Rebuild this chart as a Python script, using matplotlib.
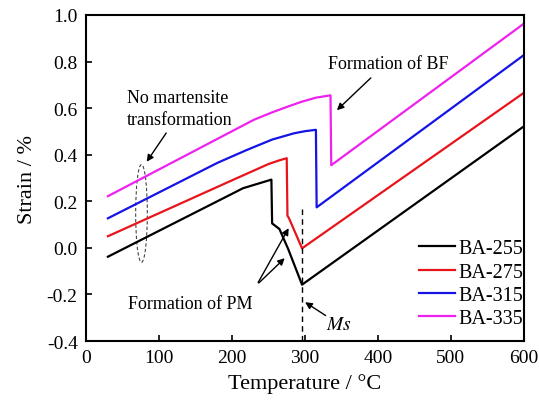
import matplotlib
matplotlib.use("Agg")
import matplotlib.pyplot as plt
from matplotlib.patches import Ellipse

plt.rcParams['font.family'] = ['Liberation Serif', 'DejaVu Serif']
plt.rcParams['mathtext.fontset'] = 'stix'

# BA-255
t_255 = [30, 200, 215, 235, 254, 255, 265, 277, 296, 600]
s_255 = [-0.038, 0.232, 0.256, 0.275, 0.293, 0.105, 0.081, -0.005, -0.158, 0.522]
# BA-275
t_275 = [30, 200, 225, 250, 265, 275, 276, 278, 296, 600]
s_275 = [0.05, 0.29, 0.325, 0.36, 0.376, 0.385, 0.138, 0.128, -0.002, 0.666]
# BA-315
t_315 = [30, 180, 220, 255, 285, 300, 315, 316, 600]
s_315 = [0.127, 0.365, 0.42, 0.465, 0.492, 0.501, 0.507, 0.174, 0.828]
# BA-335
t_335 = [30, 230, 255, 275, 295, 315, 335, 336, 600]
s_335 = [0.222, 0.55, 0.582, 0.605, 0.627, 0.645, 0.655, 0.355, 0.963]

labels = ["BA-255", "BA-275", "BA-315", "BA-335"]
colors = ["black", "#e8141b", "#1414e6", "#ee22ee"]

ms_temp = 295.5

fig = plt.figure(figsize=(5.39, 4.06), dpi=100)
ax = fig.add_axes([0.1596, 0.1576, 0.8124, 0.803])

series = [(t_255, s_255), (t_275, s_275), (t_315, s_315), (t_335, s_335)]
for (t, s), lab, c in zip(series, labels, colors):
    ax.plot(t, s, color=c, lw=1.6, label=lab)

ax.set_xlim(0, 600)
ax.set_ylim(-0.4, 1.0)
ax.set_xticks(range(0, 601, 100))
ax.set_yticks([-0.4, -0.2, 0.0, 0.2, 0.4, 0.6, 0.8, 1.0])
ax.set_yticklabels(["-0.4", "-0.2", "0.0", "0.2", "0.4", "0.6", "0.8", "1.0"])
ax.tick_params(direction='in', length=4, width=1.2, labelsize=14, pad=6)
for sp in ax.spines.values():
    sp.set_linewidth(1.5)

ax.set_xlabel("Temperature / °C", fontsize=16, labelpad=5)
ax.set_ylabel("Strain / %", fontsize=16, labelpad=7)

# Ms line
ax.plot([ms_temp, ms_temp], [0.167, -0.4], color='black', lw=1, ls=(0, (4, 3)))

arrow = dict(arrowstyle='-|>', color='black', lw=1, mutation_scale=10)
ax.text(414, 0.79, "Formation of BF", fontsize=13, ha='center', va='center')
ax.annotate("", xy=(341, 0.583), xytext=(393, 0.738), arrowprops=arrow)

ax.text(56, 0.644, "No martensite", fontsize=13, ha='left', va='center')
ax.text(56, 0.553, "transformation", fontsize=13, ha='left', va='center')
ax.annotate("", xy=(81, 0.36), xytext=(112, 0.503), arrowprops=arrow)
ax.add_patch(Ellipse((76, 0.148), 16, 0.42, fill=False, ls=(0, (3, 2)),
                     lw=0.8, color='#444444'))

ax.annotate("", xy=(279.5, 0.095), xytext=(234, -0.159), arrowprops=arrow)
ax.annotate("", xy=(275, -0.036), xytext=(234, -0.159), arrowprops=arrow)
ax.text(143, -0.24, "Formation of PM", fontsize=13, ha='center', va='center')

ax.text(346.6, -0.327, "$Ms$", fontsize=14, ha='center', va='center')
ax.annotate("", xy=(297, -0.227), xytext=(331.5, -0.297), arrowprops=arrow)

ax.legend(loc='lower right', bbox_to_anchor=(1.013, 0.022), frameon=False,
          fontsize=14.5, handlelength=1.75, handletextpad=0.2,
          labelspacing=0.2, borderaxespad=0, borderpad=0.3)

fig.savefig("out.png", dpi=100)
